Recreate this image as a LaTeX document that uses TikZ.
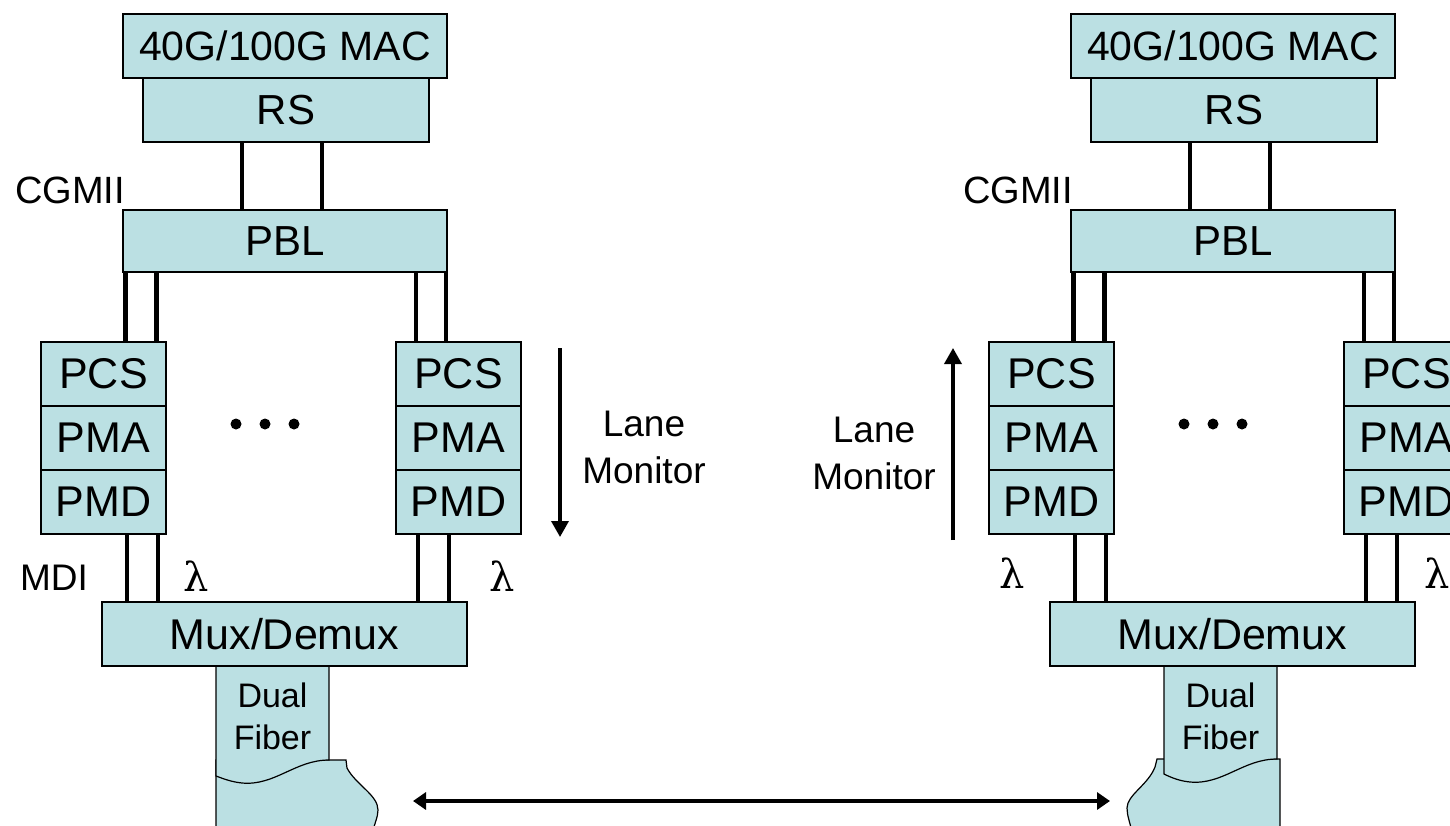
\documentclass[tikz,border=0pt]{standalone}
\usepackage{fontspec}
\setmainfont{Liberation Sans}
\newfontfamily\lamfont{DejaVu Serif}
\usetikzlibrary{arrows.meta}
\definecolor{layerfill}{RGB}{187,224,227}
\newcommand{\fsz}[1]{\fontsize{#1pt}{#1pt}\selectfont}
\newcommand{\fszb}[2]{\fontsize{#1pt}{#2pt}\selectfont}

% One end of the link: MAC, RS, PBL, two lanes of PCS/PMA/PMD and the Mux/Demux.
% #1 is the prefix given to every node and coordinate name of that end.
\newcommand{\linkend}[1]{%
  \node[layer, minimum width=324pt, minimum height=64pt, font=\fsz{41}] (#1mac) at (285,46) {40G/100G MAC};
  \node[layer, minimum width=286pt, minimum height=64pt, font=\fsz{42}] (#1rs) at (286,110) {RS};
  \node[layer, minimum width=324pt, minimum height=62pt, font=\fsz{42}] (#1pbl) at (285,241) {PBL};
  \node[lbl, font=\fsz{38}] (#1cgmii) at (70,190) {CGMII};
  % lane A
  \node[layer, minimum width=125pt, minimum height=64pt, font=\fsz{43}] (#1pcsA) at (103.5,374) {PCS};
  \node[layer, minimum width=125pt, minimum height=64pt, font=\fsz{43}] (#1pmaA) at (103.5,438) {PMA};
  \node[layer, minimum width=125pt, minimum height=64pt, font=\fsz{43}] (#1pmdA) at (103.5,502) {PMD};
  % lane B
  \node[layer, minimum width=125pt, minimum height=64pt, font=\fsz{43}] (#1pcsB) at (458.5,374) {PCS};
  \node[layer, minimum width=125pt, minimum height=64pt, font=\fsz{43}] (#1pmaB) at (458.5,438) {PMA};
  \node[layer, minimum width=125pt, minimum height=64pt, font=\fsz{43}] (#1pmdB) at (458.5,502) {PMD};
  \node[layer, minimum width=365pt, minimum height=64pt, font=\fsz{43}] (#1mux) at (284.5,634) {Mux/Demux};
  % ellipsis between the lanes
  \fill (236,424) circle[radius=5.5pt] (265,424) circle[radius=5.5pt] (294,424) circle[radius=5.5pt];
  % wire positions
  \coordinate (#1w1) at (242,0);   \coordinate (#1w2) at (322,0);
  \coordinate (#1w3) at (125.5,0); \coordinate (#1w4) at (156.5,0);
  \coordinate (#1w5) at (416,0);   \coordinate (#1w6) at (446,0);
  \coordinate (#1w7) at (127,0);   \coordinate (#1w8) at (158,0);
  \coordinate (#1w9) at (418,0);   \coordinate (#1w10) at (449,0);
  % CGMII
  \draw[wire] (#1rs.south -| #1w1) -- (#1pbl.north -| #1w1);
  \draw[wire] (#1rs.south -| #1w2) -- (#1pbl.north -| #1w2);
  % PBL to the lanes
  \draw[wire] (#1pbl.south -| #1w3) -- (#1pcsA.north -| #1w3);
  \draw[wire] (#1pbl.south -| #1w4) -- (#1pcsA.north -| #1w4);
  \draw[wire] (#1pbl.south -| #1w5) -- (#1pcsB.north -| #1w5);
  \draw[wire] (#1pbl.south -| #1w6) -- (#1pcsB.north -| #1w6);
  % MDI
  \draw[wire] (#1pmdA.south -| #1w7) -- (#1mux.north -| #1w7);
  \draw[wire] (#1pmdA.south -| #1w8) -- (#1mux.north -| #1w8);
  \draw[wire] (#1pmdB.south -| #1w9) -- (#1mux.north -| #1w9);
  \draw[wire] (#1pmdB.south -| #1w10) -- (#1mux.north -| #1w10);
}

\begin{document}
\begin{tikzpicture}[x=1pt, y=-1pt,
  layer/.style={draw=black, line width=1.2pt, fill=layerfill, inner sep=0pt, text=black},
  fibre/.style={draw=black, line width=1.2pt, fill=layerfill},
  wire/.style={line width=4.5pt},
  lanearrow/.style={line width=3.5pt, -{Triangle[length=16pt,width=17pt]}},
  spanarrow/.style={line width=4.5pt, {Triangle[length=13pt,width=17pt]}-{Triangle[length=13pt,width=17pt]}},
  lbl/.style={inner sep=0pt, text=black}]
\useasboundingbox (0,0) rectangle (1450,825);
\clip (0,0) rectangle (1450,825);

% fibre leaving the left end
\filldraw[fibre] (216,840) -- (216,760) -- (346,760) -- (347,768)
  .. controls (356,785) and (378,795) .. (378,810)
  .. controls (378,818) and (374,823) .. (371,840) -- cycle;
\filldraw[fibre] (216,666) -- (329,666) -- (329,760)
  .. controls (295,760) and (275,786) .. (242,783)
  .. controls (232,782) and (224,779) .. (216,776) -- cycle;

% fibre arriving at the right end
\filldraw[fibre] (1280,840) -- (1280,759) -- (1157,759) -- (1155,767)
  .. controls (1148,785) and (1127,795) .. (1127,808)
  .. controls (1127,816) and (1130,822) .. (1134,840) -- cycle;
\filldraw[fibre] (1164,666) -- (1277,666) -- (1277,759)
  .. controls (1243,759) and (1223,785) .. (1190,782)
  .. controls (1180,781) and (1172,778) .. (1164,774) -- cycle;

% left end
\linkend{L}
\node[lbl, align=center, font=\fszb{34}{42}] (Lfibre) at (272.5,716) {Dual\\Fiber};
\node[lbl, font=\fsz{37}] (Lmdi) at (54,578) {MDI};
\node[lbl, font=\lamfont\fsz{40}] (LlamA) at (196,576) {λ};
\node[lbl, font=\lamfont\fsz{40}] (LlamB) at (502,576) {λ};
\coordinate (LmonTop) at (560,348);
\coordinate (LmonBot) at (560,537);
\draw[lanearrow] (LmonTop) -- (LmonBot);
\node[lbl, align=center, font=\fszb{37}{47}] (Lmon) at (644,447) {Lane\\Monitor};

% right end
\begin{scope}[xshift=948pt]
\linkend{R}
\node[lbl, align=center, font=\fszb{34}{42}] (Rfibre) at (272.5,716) {Dual\\Fiber};
\end{scope}
\node[lbl, font=\lamfont\fsz{40}] (RlamA) at (1012,573) {λ};
\node[lbl, font=\lamfont\fsz{40}] (RlamB) at (1437,573) {λ};
\coordinate (RmonBot) at (953,540);
\coordinate (RmonTop) at (953,348);
\draw[lanearrow] (RmonBot) -- (RmonTop);
\node[lbl, align=center, font=\fszb{37}{47}] (Rmon) at (874,453) {Lane\\Monitor};

% the fibre span between the two ends
\coordinate (spanL) at (413,801);
\coordinate (spanR) at (1110,801);
\draw[spanarrow] (spanL) -- (spanR);
\end{tikzpicture}
\end{document}
